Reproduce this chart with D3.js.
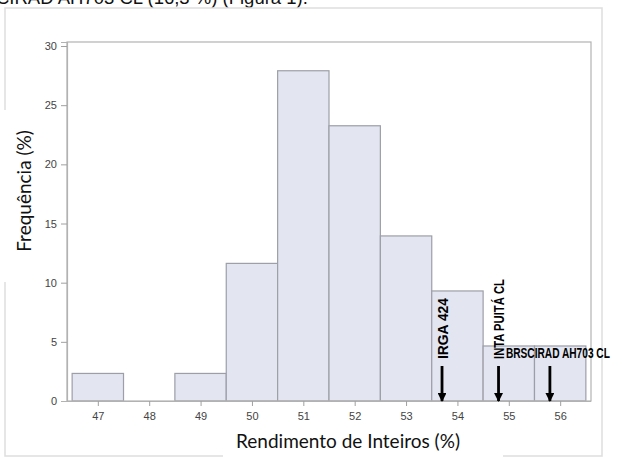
<!DOCTYPE html>
<html><head><meta charset="utf-8">
<script src="https://cdn.jsdelivr.net/npm/d3@7"></script>
<style>html,body{margin:0;padding:0;background:#fff;overflow:hidden}</style>
</head><body>
<svg id="c" width="622" height="458"></svg>
<script>
const bins = [47, 48, 49, 50, 51, 52, 53, 54, 55, 56];
const freq = [2.33, 0, 2.33, 11.63, 27.91, 23.26, 13.95, 9.30, 4.65, 4.65];
const yTicks = [0, 5, 10, 15, 20, 25, 30];
const cultivars = ["IRGA 424", "INTA PUITÁ CL", "BRSCIRAD AH703 CL"];
const cultivarValues = [53.7, 54.8, 55.8];
const xTitle = "Rendimento de Inteiros (%)";
const yTitle = "Frequência (%)";
const captionText = "CIRAD AH703 CL (16,3 %) (Figura 1).";

const svg = d3.select("#c");
const L = 67, R = 591, T = 42, B = 401;
const x = d3.scaleLinear().domain([46.4, 56.6]).range([L, R]);
const y = d3.scaleLinear().domain([0, 30.34]).range([B, T]);

// caption fragment at top (cut off in the reference too)
svg.append("text").attr("x", -4).attr("y", 4).attr("font-family", "Liberation Sans, Arial, sans-serif")
  .attr("font-size", 18.5).attr("fill", "#111").text(captionText);

// outer box
svg.append("rect").attr("x", 5).attr("y", 8).attr("width", 597).attr("height", 448)
  .attr("fill", "none").attr("stroke", "#dedede").attr("stroke-width", 1.5);

// bars
svg.append("g").selectAll("rect").data(bins.map((b, i) => ({b, v: freq[i]})).filter(d => d.v > 0))
  .join("rect")
  .attr("x", d => x(d.b - 0.5)).attr("y", d => y(d.v))
  .attr("width", d => x(d.b + 0.5) - x(d.b - 0.5)).attr("height", d => y(0) - y(d.v))
  .attr("fill", "#e3e6f0").attr("stroke", "#9c9ea8").attr("stroke-width", 1.2);

// plot frame
svg.append("rect").attr("x", L).attr("y", T).attr("width", R - L).attr("height", B - T)
  .attr("fill", "none").attr("stroke", "#b2b2b2").attr("stroke-width", 1.2);

// axes
const yAxis = d3.axisLeft(y).tickValues(yTicks).tickSize(6).tickPadding(4);
const gy = svg.append("g").attr("transform", `translate(${L},0)`).call(yAxis);
const xAxis = d3.axisBottom(x).tickValues(bins).tickSize(5).tickPadding(6);
const gx = svg.append("g").attr("transform", `translate(0,${B})`).call(xAxis);
[gx, gy].forEach(g => {
  g.select(".domain").attr("stroke", "#b2b2b2").attr("stroke-width", 1.2);
  g.selectAll(".tick line").attr("stroke", "#a0a0a0");
  g.selectAll(".tick text").attr("fill", "#444").attr("font-size", 11)
    .attr("font-family", "Liberation Sans, Arial, sans-serif");
});
gx.select(".domain").attr("d", `M${L - 6},0.5H${R}`);

// titles with white backgrounds breaking outer box
svg.append("rect").attr("x", 0).attr("y", 110).attr("width", 42).attr("height", 172).attr("fill", "#fff");
svg.append("text").attr("transform", "translate(31,191) rotate(-90)").attr("text-anchor", "middle")
  .attr("font-family", "Lato, 'Open Sans', sans-serif").attr("font-size", 19).attr("fill", "#111")
  .text(yTitle);
svg.append("rect").attr("x", 223).attr("y", 428).attr("width", 280).attr("height", 30).attr("fill", "#fff");
svg.append("text").attr("x", 348).attr("y", 448).attr("text-anchor", "middle")
  .attr("font-family", "Lato, 'Open Sans', sans-serif").attr("font-size", 19).attr("fill", "#111")
  .text(xTitle);

// arrows
const defs = svg.append("defs");
defs.append("marker").attr("id", "ah").attr("viewBox", "0 0 10 10").attr("refX", 9).attr("refY", 5)
  .attr("markerWidth", 3.4).attr("markerHeight", 3.2).attr("orient", "auto")
  .append("path").attr("d", "M0,0L10,5L0,10z").attr("fill", "#000");
svg.append("g").selectAll("line").data(cultivarValues).join("line")
  .attr("x1", d => x(d)).attr("x2", d => x(d)).attr("y1", 366).attr("y2", 401)
  .attr("stroke", "#000").attr("stroke-width", 2.8).attr("marker-end", "url(#ah)");

// cultivar labels
const lblFont = "'Liberation Sans Narrow', 'Arial Narrow', 'Liberation Sans', sans-serif";
const lblLen = [61, 80, 104];
cultivars.forEach((c, i) => {
  const t = svg.append("text").attr("font-family", lblFont).attr("font-weight", "bold")
    .attr("font-size", 14.5).attr("fill", "#000").attr("textLength", lblLen[i])
    .attr("lengthAdjust", "spacingAndGlyphs").text(c);
  if (i < 2) {
    t.attr("transform", `translate(${x(cultivarValues[i]) + 5.5},359) rotate(-90)`);
  } else {
    t.attr("x", x(cultivarValues[i]) - 44).attr("y", 358);
  }
});
</script>
</body></html>
